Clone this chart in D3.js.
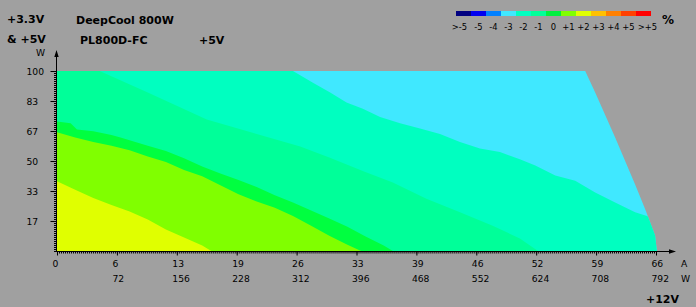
<!DOCTYPE html>
<html>
<head>
<meta charset="utf-8">
<script src="https://cdn.jsdelivr.net/npm/d3@7/dist/d3.min.js"></script>
<style>
  body { margin: 0; background: #a0a0a0; }
  svg { display: block; }
</style>
</head>
<body>
<script>
// +12V axis (amps) with matching watt row
var ampTicks = [0, 6.6, 13.2, 19.8, 26.4, 33, 39.6, 46.2, 52.8, 59.4, 66];
var ampLabels = ['0', '6', '13', '19', '26', '33', '39', '46', '52', '59', '66'];
var wattLabels = ['', '72', '156', '228', '312', '396', '468', '552', '624', '708', '792'];

// +3.3V & +5V axis (watts)
var yTicks = [16.67, 33.33, 50, 66.67, 83.33, 100];
var yLabels = ['17', '33', '50', '67', '83', '100'];

// deviation scale
var legendLabels = ['>-5', '-5', '-4', '-3', '-2', '-1', '0', '+1', '+2', '+3', '+4', '+5', '>+5'];
var legendColors = ['#000080', '#0000f0', '#0080ff', '#40e8ff', '#00ffc0', '#00ff99',
                    '#00f040', '#80ff00', '#e0ff00', '#ffc000', '#ff8000', '#ff4000', '#ff0000'];

// max load line [A, W]
var maxLoad = [[58.2, 100], [59.3, 88], [60.4, 75.5], [61.5, 63], [62.6, 50], [63.7, 37],
               [64.8, 23.4], [65.9, 8.6], [66.1, 0]];

// upper edges of each deviation zone [A, W]
var edgeMinus2 = [[0, 100], [26, 100], [28.2, 93.5], [30.1, 88], [31.9, 82.5], [33.7, 79],
                  [35.6, 74.5], [37.8, 71], [40, 68], [42.2, 65], [44.4, 60.5], [46.6, 57],
                  [48.8, 55], [51, 51], [52.7, 47.5], [54.9, 42], [57.1, 39], [59.3, 32.5],
                  [61.5, 27], [63.7, 21.5], [65, 19.5], [67, 15]];
var edgeMinus1 = [[0, 100], [4.7, 100], [10, 88], [16.5, 73], [22, 65], [26.8, 58], [30, 52],
                  [33.9, 44], [37, 38], [40.7, 29], [44.4, 21.5], [48, 14], [51, 7], [53, 0]];
var edgeZero = [[0, 72], [1.5, 71], [2.2, 67.5], [4, 66.5], [6, 64.5], [7, 63], [8, 61.5],
                [10, 58.5], [12, 55.5], [14, 51.5], [16, 47], [18, 43], [20, 39.5], [22, 35.5],
                [24, 31], [26, 27], [28, 22.5], [30, 18], [32, 13.5], [34, 8], [36, 3], [37, 0]];
var edgePlus1 = [[0, 66], [2, 63], [4, 60.5], [6, 58.5], [8, 56], [10, 52.5], [12, 49.5],
                 [14, 45], [16, 41.5], [18, 36.5], [20, 31.5], [22, 27.5], [24, 24], [26, 19.5],
                 [28, 14], [30, 8.5], [32, 3.5], [33.5, 0]];
var edgePlus2 = [[0, 38.7], [2, 34], [4, 29.5], [6, 25.5], [8, 22], [10, 17.5], [12, 12],
                 [14, 7.5], [16, 3], [17, 0]];

var width = 696,
    height = 307,
    labelFont = 'DejaVu Sans',
    fontSize = '9.2px',
    legendSize = '8.4px',
    titleSize = '11px';

var svg = d3.select('body')
    .append('svg')
    .attr('width', width)
    .attr('height', height);

var xScale = d3.scaleLinear().domain([0, 66]).range([57, 656]);
var yScale = d3.scaleLinear().domain([0, 100]).range([251, 71]);

var toPath = d3.line()
    .x(function(d) { return xScale(d[0]); })
    .y(function(d) { return yScale(d[1]); });

// clip everything to the max load region
svg.append('clipPath')
    .attr('id', 'load')
    .append('path')
    .attr('d', toPath([[0, 0], [0, 100]].concat(maxLoad)) + 'Z');

var plot = svg.append('g').attr('clip-path', 'url(#load)');

plot.append('rect')
    .attr('x', xScale(0))
    .attr('y', yScale(100))
    .attr('width', xScale(66) - xScale(0) + 2)
    .attr('height', yScale(0) - yScale(100))
    .attr('fill', legendColors[3]);

var zoneArea = d3.area()
    .x(function(d) { return xScale(d[0]); })
    .y0(yScale(0))
    .y1(function(d) { return yScale(d[1]); });

var zones = [
    {edge: edgeMinus2, color: legendColors[4]},
    {edge: edgeMinus1, color: legendColors[5]},
    {edge: edgeZero, color: '#00ff40'},
    {edge: edgePlus1, color: legendColors[7]},
    {edge: edgePlus2, color: legendColors[8]}
];

plot.selectAll('path.zone')
    .data(zones)
    .enter()
    .append('path')
    .attr('class', 'zone')
    .attr('d', function(d) { return zoneArea(d.edge); })
    .attr('fill', function(d) { return d.color; });

// axes
var xMinor = d3.axisBottom(xScale)
    .tickValues(d3.range(0, 66.01, 0.22))
    .tickSize(2.5)
    .tickFormat('');

var xMajor = d3.axisBottom(xScale)
    .tickValues(ampTicks)
    .tickSize(4.5)
    .tickFormat(function(d, i) { return ampLabels[i]; });

var yMinor = d3.axisLeft(yScale)
    .tickValues(d3.range(0, 100.01, 100 / 90))
    .tickSize(3)
    .tickFormat('');

var yMajor = d3.axisLeft(yScale)
    .tickValues(yTicks)
    .tickSize(6.5)
    .tickFormat(function(d, i) { return yLabels[i]; });

svg.append('g')
    .attr('class', 'axis x minor')
    .attr('transform', 'translate(0,251)')
    .call(xMinor);

var xAxisObject = svg.append('g')
    .attr('class', 'axis x major')
    .attr('transform', 'translate(0,251)')
    .call(xMajor);

svg.append('g')
    .attr('class', 'axis y minor')
    .attr('transform', 'translate(57,0)')
    .call(yMinor);

svg.append('g')
    .attr('class', 'axis y major')
    .attr('transform', 'translate(57,0)')
    .call(yMajor);

svg.selectAll('.axis .domain').remove();
svg.selectAll('.axis line').attr('stroke', '#000');
svg.selectAll('.axis.minor text').remove();

xAxisObject.selectAll('text')
    .attr('y', 16)
    .attr('dy', 0)
    .attr('x', -5)
    .style('text-anchor', 'start');

xAxisObject.selectAll('.tick')
    .append('text')
    .attr('x', -5)
    .attr('y', 31)
    .style('text-anchor', 'start')
    .text(function(d, i) { return wattLabels[i]; });

svg.selectAll('.axis.y.major text')
    .attr('x', -30.5)
    .attr('dy', '0.36em')
    .style('text-anchor', 'start');

svg.selectAll('.axis text')
    .style('font-family', labelFont)
    .style('font-size', fontSize)
    .attr('fill', '#000');

// axis lines with arrows
svg.append('path')
    .attr('d', 'M56.5,251.5V54M56.5,251.5H672')
    .attr('stroke', '#000')
    .attr('fill', 'none');

svg.append('path')
    .attr('d', 'M56.5,50L54.3,57L58.7,57Z M676,251.5L669,249.3L669,253.7Z')
    .attr('fill', '#000');

// legend bar
var legendX = d3.scaleBand().domain(legendLabels).range([456, 651]);

svg.selectAll('rect.legend')
    .data(legendLabels)
    .enter()
    .append('rect')
    .attr('class', 'legend')
    .attr('x', function(d) { return legendX(d); })
    .attr('y', 11)
    .attr('width', legendX.bandwidth())
    .attr('height', 5)
    .attr('fill', function(d, i) { return legendColors[i]; });

svg.selectAll('text.legend')
    .data(legendLabels)
    .enter()
    .append('text')
    .attr('class', 'legend')
    .attr('x', function(d, i) {
        // outer labels sit a little outwards
        var nudge = i === 0 ? -4 : (i === legendLabels.length - 1 ? 4 : 0);
        return legendX(d) + legendX.bandwidth() / 2 + nudge;
    })
    .attr('y', 30)
    .style('text-anchor', 'middle')
    .style('font-family', labelFont)
    .style('font-size', legendSize)
    .text(function(d) { return d; });

// titles and units
var texts = [
    {t: '+3.3V', x: 7, y: 22.5, b: true},
    {t: '& +5V', x: 7, y: 42.5, b: true},
    {t: 'DeepCool 800W', x: 76, y: 24, b: true},
    {t: 'PL800D-FC', x: 80, y: 44, b: true},
    {t: '+5V', x: 199, y: 44, b: true},
    {t: '%', x: 662, y: 24, b: true, s: '12px'},
    {t: '+12V', x: 646, y: 302.5, b: true},
    {t: 'W', x: 36, y: 56, b: false},
    {t: 'A', x: 681, y: 267, b: false},
    {t: 'W', x: 681, y: 282, b: false}
];

svg.selectAll('text.label')
    .data(texts)
    .enter()
    .append('text')
    .attr('class', 'label')
    .attr('x', function(d) { return d.x; })
    .attr('y', function(d) { return d.y; })
    .style('font-family', labelFont)
    .style('font-size', function(d) { return d.s || (d.b ? titleSize : fontSize); })
    .style('font-weight', function(d) { return d.b ? 'bold' : 'normal'; })
    .text(function(d) { return d.t; });
</script>
</body>
</html>
